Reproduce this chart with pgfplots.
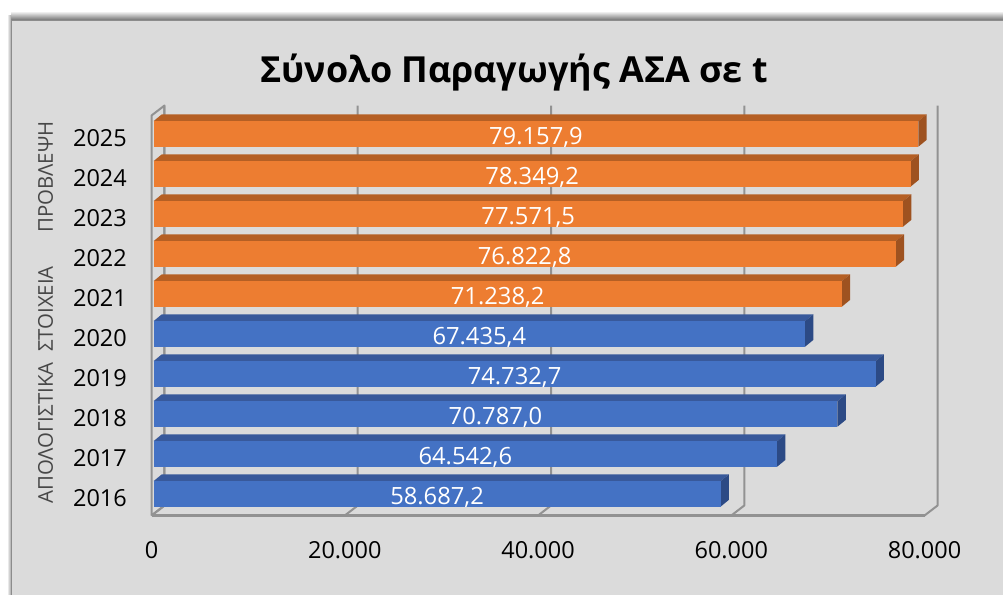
\documentclass[border=0pt]{standalone}
\usepackage{fontspec}
\setmainfont{Open Sans}
\usepackage{pgfplots}
\pgfplotsset{compat=1.18}

\definecolor{panel}{HTML}{DBDBDB}
\definecolor{edgegray}{HTML}{8C8C8C}
\definecolor{gridgray}{HTML}{929292}
\definecolor{bluefront}{HTML}{4472C4}
\definecolor{bluetop}{HTML}{38599B}
\definecolor{blueside}{HTML}{2C4A85}
\definecolor{orangefront}{HTML}{ED7D31}
\definecolor{orangetop}{HTML}{B55F24}
\definecolor{orangeside}{HTML}{9E5220}

% one bar: position, value, front/top/side colours, label
\newcommand\depthbar[6]{%
  \edef\xa{\fpeval{#2+207}}%
  \edef\xb{\fpeval{#2+207+859}}%
  \edef\xm{\fpeval{#2/2+207}}%
  \edef\ylo{\fpeval{#1+0.04-0.319}}%
  \edef\yhi{\fpeval{#1+0.04+0.319}}%
  \edef\ylob{\fpeval{#1+0.04-0.319+0.17}}%
  \edef\yhib{\fpeval{#1+0.04+0.319+0.17}}%
  \edef\ylab{\fpeval{#1-0.05}}%
  \addplot[fill=#4,draw=none] coordinates {(207,\yhi) (\xa,\yhi) (\xb,\yhib) (1066,\yhib)};
  \addplot[fill=#5,draw=none] coordinates {(\xa,\yhi) (\xb,\yhib) (\xb,\ylob) (\xa,\ylo)};
  \addplot[xbar,bar width=19.125pt,fill=#3,draw=none,xshift=1.5pt,yshift=1.2pt] coordinates {(#2,#1)};
  \addplot[draw=none,nodes near coords={#6},nodes near coords align={center},
    every node near coord/.style={text=white,font=\fontsize{17.8pt}{20pt}\selectfont,inner sep=0pt,anchor=center}]
    coordinates {(\xm,\ylab)};
}
% one gridline: front floor, back floor, top of wall
\newcommand\gridline[1]{%
  \edef\xb{\fpeval{#1+1345}}%
  \addplot[gridgray,line width=1.5pt,line join=round] coordinates {(#1,-0.5) (\xb,-0.25) (\xb,9.75)};
}

\begin{document}
\begin{tikzpicture}[x=0.75pt,y=0.75pt]
\useasboundingbox (0,0) rectangle (1003,595);
\fill[white] (0,0) rectangle (1003,595);
\shade[top color=white,bottom color=black!55] (11,595-11) rectangle (1003,595-20);
\shade[left color=white,right color=black!35] (7,0) rectangle (11,595-16);
\fill[panel] (11.5,0) rectangle (1003,595-20.5);
\draw[edgegray,line width=1pt] (11.5,0) -- (11.5,595-20.5) -- (1003,595-20.5);
\node[font=\fontsize{26.9pt}{30pt}\selectfont\bfseries,text=black,inner sep=0pt] at (514,595-72.5) {Σύνολο Παραγωγής ΑΣΑ σε t};
\node[rotate=90,font=\fontsize{15.3pt}{18pt}\selectfont,text=black!72,inner sep=0pt] at (45.5,595-385) {ΑΠΟΛΟΓΙΣΤΙΚΑ\ \ ΣΤΟΙΧΕΙΑ};
\node[rotate=90,font=\fontsize{15.3pt}{18pt}\selectfont,text=black!72,inner sep=0pt] at (45.5,595-177) {ΠΡΟΒΛΕΨΗ};
\begin{axis}[
    at={(113.625pt,59.6pt)},
    anchor=south west,
    scale only axis,
    width=579.75pt,
    height=300pt,
    xmin=0, xmax=80000,
    ymin=-0.5, ymax=9.5,
    clip=false,
    axis line style={draw=none},
    major tick length=0pt,
    xtick={0,20000,40000,60000,80000},
    ytick={0,1,2,3,4,5,6,7,8,9},
    yticklabels={2016,2017,2018,2019,2020,2021,2022,2023,2024,2025},
    scaled x ticks=false,
    /pgf/number format/.cd,1000 sep={.},assume math mode=true,
    /pgfplots/.cd,
    tick label style={font=\fontsize{17.6pt}{20pt}\selectfont,text=black},
    xticklabel style={yshift=-16pt},
    yticklabel style={xshift=-15pt,yshift=-1.6pt},
]
\gridline{0}
\gridline{20000}
\gridline{40000}
\gridline{60000}
\gridline{80000}
\addplot[gridgray,line width=1.5pt,line join=round] coordinates {(0,-0.5) (0,9.5) (1345,9.75) (1345,-0.25) (0,-0.5)};
\addplot[gridgray,line width=2pt] coordinates {(0,-0.5) (80000,-0.5)};
\depthbar{9}{79157.9}{orangefront}{orangetop}{orangeside}{79.157,9}
\depthbar{8}{78349.2}{orangefront}{orangetop}{orangeside}{78.349,2}
\depthbar{7}{77571.5}{orangefront}{orangetop}{orangeside}{77.571,5}
\depthbar{6}{76822.8}{orangefront}{orangetop}{orangeside}{76.822,8}
\depthbar{5}{71238.2}{orangefront}{orangetop}{orangeside}{71.238,2}
\depthbar{4}{67435.4}{bluefront}{bluetop}{blueside}{67.435,4}
\depthbar{3}{74732.7}{bluefront}{bluetop}{blueside}{74.732,7}
\depthbar{2}{70787.0}{bluefront}{bluetop}{blueside}{70.787,0}
\depthbar{1}{64542.6}{bluefront}{bluetop}{blueside}{64.542,6}
\depthbar{0}{58687.2}{bluefront}{bluetop}{blueside}{58.687,2}
\end{axis}
\end{tikzpicture}
\end{document}
